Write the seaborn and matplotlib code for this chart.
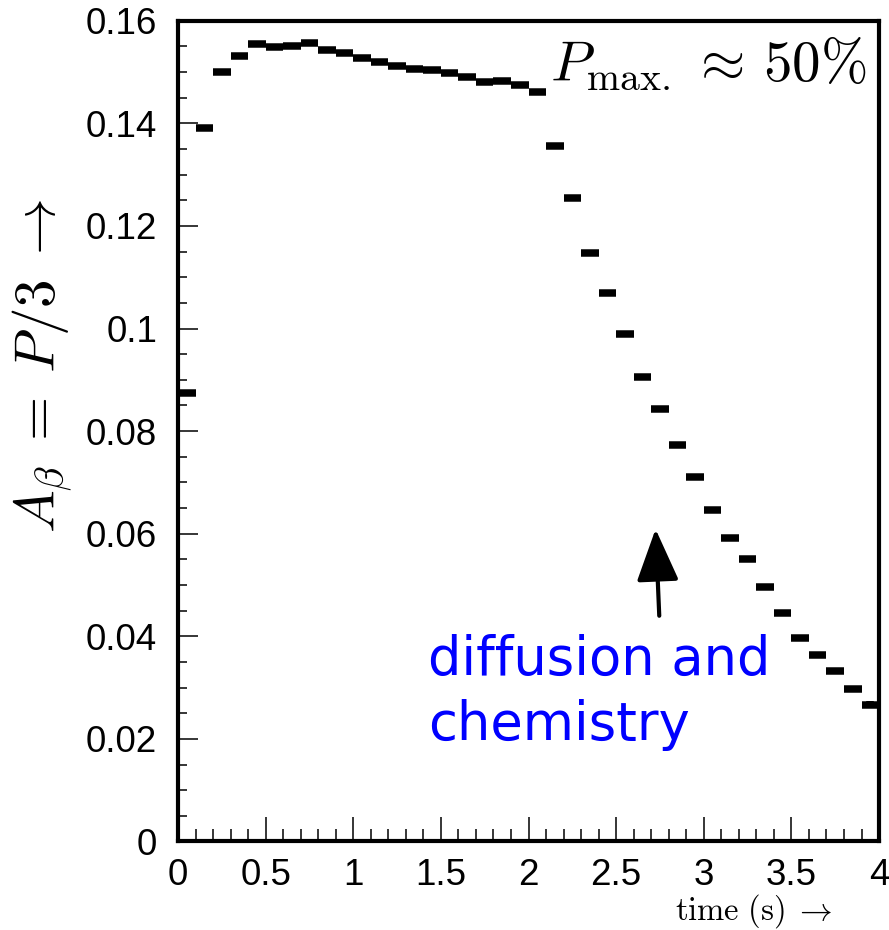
import numpy as np
import matplotlib
matplotlib.use("Agg")
import matplotlib.pyplot as plt
from matplotlib.ticker import MultipleLocator
import seaborn as sns

# --- data (0.1 s bins) ---
bin_centers = [0.05, 0.15, 0.25, 0.35, 0.45, 0.55, 0.65, 0.75, 0.85, 0.95,
               1.05, 1.15, 1.25, 1.35, 1.45, 1.55, 1.65, 1.75, 1.85, 1.95,
               2.05, 2.15, 2.25, 2.35, 2.45, 2.55, 2.65, 2.75, 2.85, 2.95,
               3.05, 3.15, 3.25, 3.35, 3.45, 3.55, 3.65, 3.75, 3.85, 3.95]
asym = [0.0874, 0.1390, 0.1501, 0.1531, 0.1554, 0.1548, 0.1551, 0.1557, 0.1543, 0.1537,
        0.1528, 0.1520, 0.1512, 0.1506, 0.1503, 0.1498, 0.1490, 0.1480, 0.1482, 0.1474,
        0.1462, 0.1355, 0.1254, 0.1147, 0.1070, 0.0989, 0.0905, 0.0844, 0.0772, 0.0711,
        0.0646, 0.0591, 0.0550, 0.0497, 0.0446, 0.0396, 0.0364, 0.0333, 0.0297, 0.0267]
asym_err = [0.0002, 0.0002, 0.0002, 0.0002, 0.0002, 0.0002, 0.0002, 0.0002, 0.0002, 0.0002,
            0.0002, 0.0002, 0.0002, 0.0002, 0.0002, 0.0002, 0.0002, 0.0002, 0.0002, 0.0002,
            0.0002, 0.0002, 0.0002, 0.0002, 0.0002, 0.0003, 0.0003, 0.0003, 0.0003, 0.0004,
            0.0004, 0.0004, 0.0004, 0.0005, 0.0005, 0.0005, 0.0005, 0.0005, 0.0006, 0.0006]
half_bin = 0.05

xticks = [0, 0.5, 1, 1.5, 2, 2.5, 3, 3.5, 4]
xticklabels = ["0", "0.5", "1", "1.5", "2", "2.5", "3", "3.5", "4"]
yticks = [0, 0.02, 0.04, 0.06, 0.08, 0.1, 0.12, 0.14, 0.16]
yticklabels = ["0", "0.02", "0.04", "0.06", "0.08", "0.1", "0.12", "0.14", "0.16"]
note_lines = ["diffusion and", "chemistry"]

sns.set_theme(style="ticks")
plt.rcParams["font.family"] = ["Liberation Sans", "DejaVu Sans"]
plt.rcParams["mathtext.fontset"] = "cm"

fig = plt.figure(figsize=(8.89, 9.30), dpi=100)
ax = fig.add_axes([0.2002, 0.0952, 0.7886, 0.8825])

# ROOT-like histogram points: thick horizontal bin-width bars
ax.errorbar(bin_centers, asym, xerr=half_bin, yerr=asym_err, fmt="none",
            ecolor="black", elinewidth=5.4, capsize=0)
sns.scatterplot(x=bin_centers, y=asym, ax=ax, color="black", marker="s",
                s=14, linewidth=0, legend=False)

ax.set_xlim(0, 4)
ax.set_ylim(0, 0.16)
ax.set_xticks(xticks)
ax.set_xticklabels(xticklabels)
ax.set_yticks(yticks)
ax.set_yticklabels(yticklabels)
ax.xaxis.set_minor_locator(MultipleLocator(0.1))
ax.yaxis.set_minor_locator(MultipleLocator(0.005))

ax.tick_params(axis="both", which="both", direction="in", color="black",
               top=False, right=False, labelsize=26.5, labelcolor="black")
ax.tick_params(axis="x", which="major", length=17, width=1.1, pad=12)
ax.tick_params(axis="x", which="minor", length=8.6, width=1.1)
ax.tick_params(axis="y", which="major", length=14.4, width=1.1, pad=15)
ax.tick_params(axis="y", which="minor", length=6.5, width=1.1)
for sp in ax.spines.values():
    sp.set_linewidth(3.0)
    sp.set_color("black")
ax.set_xlabel("")
ax.set_ylabel("")

# axis titles
fig.text(43 / 889, 1 - 366 / 930, r"$A_\beta\;=\;P/3\;\rightarrow$", rotation=90,
         ha="center", va="center", fontsize=41, color="black")
fig.text(833 / 889, 1 - 920 / 930, r"$\mathrm{time\ (s)}\;\rightarrow$",
         ha="right", va="baseline", fontsize=23.5, color="black")

# annotations
fig.text(550 / 889, 1 - 80 / 930, r"$P_{\mathrm{max.}}\,\approx\,50\%$",
         ha="left", va="baseline", fontsize=41, color="black")
for i, line in enumerate(note_lines):
    ax.text(1.426, 0.03246 - i * 0.01267, line, ha="left", va="baseline",
            fontsize=38, color="#0000ff", family="DejaVu Sans")
ax.annotate("", xy=(2.725, 0.0609), xytext=(2.746, 0.0440),
            arrowprops=dict(arrowstyle="-|>,head_length=0.42,head_width=0.17",
                            mutation_scale=77, lw=3, color="black",
                            shrinkA=0, shrinkB=0))

fig.savefig("out.png", dpi=100)
